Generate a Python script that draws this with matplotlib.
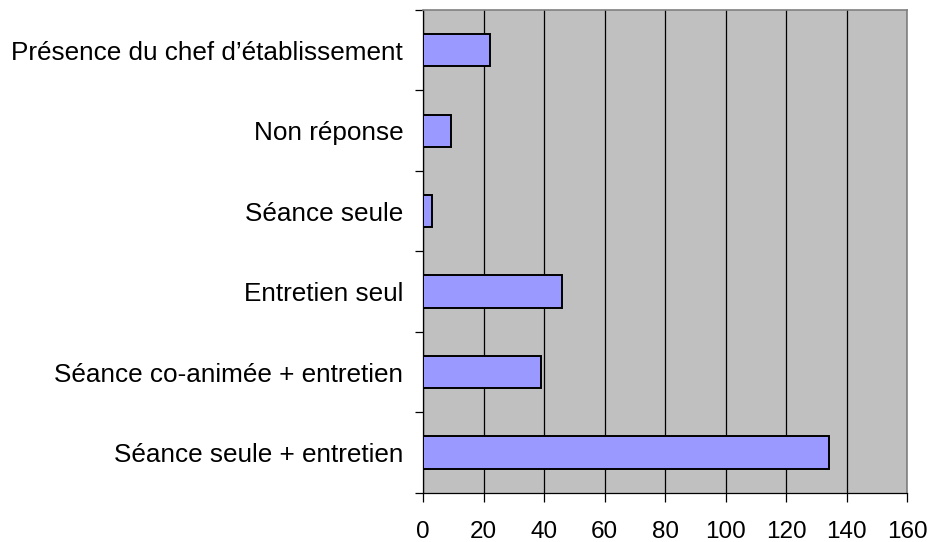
import matplotlib
matplotlib.use("Agg")
import matplotlib.pyplot as plt
import numpy as np

# data, bottom to top
categories = ["Séance seule + entretien", "Séance co-animée + entretien",
              "Entretien seul", "Séance seule", "Non réponse",
              "Présence du chef d’établissement"]
values = [134, 39, 46, 3, 9, 22]
xticks = [0, 20, 40, 60, 80, 100, 120, 140, 160]

plt.rcParams['font.family'] = ['Liberation Sans', 'DejaVu Sans']

fig = plt.figure(figsize=(9.35, 5.42), dpi=100)
ax = fig.add_axes([0.4527, 0.0910, 0.5177, 0.8905])
ax.set_facecolor('#C0C0C0')

y = np.arange(len(categories))
ax.barh(y, values, height=0.4, color='#9999FF', edgecolor='black', linewidth=1.4, zorder=3)

ax.set_xlim(0, 160)
ax.set_ylim(-0.5, len(categories) - 0.5)
ax.set_xticks(xticks)
ax.set_xticklabels([str(v) for v in xticks], fontsize=17.5)
ax.grid(axis='x', color='black', linewidth=0.9, zorder=1)

ax.set_yticks(y)
ax.set_yticklabels(categories, fontsize=18.8)
ax.set_yticks(np.arange(len(categories) + 1) - 0.5, minor=True)
ax.tick_params(axis='y', which='major', length=0, pad=14.5)
ax.tick_params(axis='y', which='minor', length=6, width=0.9, color='black', direction='out')
ax.tick_params(axis='x', which='major', length=6.5, width=0.9, pad=14, direction='out')

for s in ['left', 'bottom']:
    ax.spines[s].set_color('black')
    ax.spines[s].set_linewidth(0.9)
for s in ['top', 'right']:
    ax.spines[s].set_color('#808080')
    ax.spines[s].set_linewidth(1.2)

fig.savefig("out.png", dpi=100)
